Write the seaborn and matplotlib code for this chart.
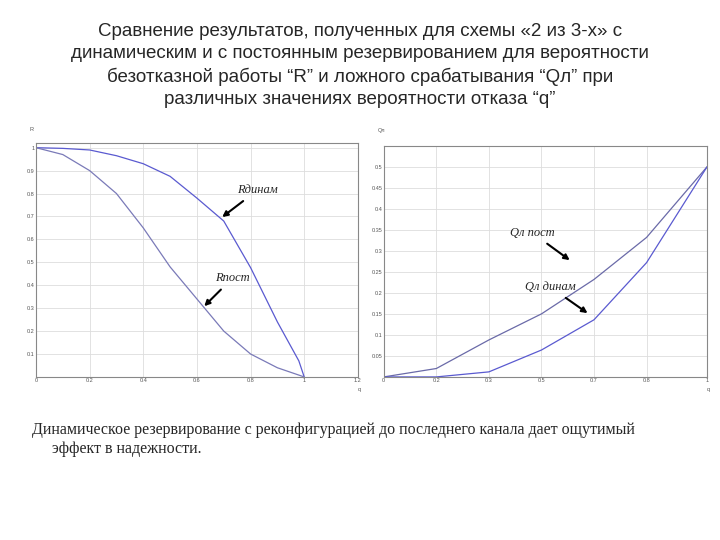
import matplotlib
matplotlib.use("Agg")
import matplotlib.pyplot as plt
import seaborn as sns
import pandas as pd

sns.set_theme(style="whitegrid")
plt.rcParams['font.family'] = ['Liberation Sans', 'DejaVu Sans']

q_left = [0, 0.1, 0.2, 0.3, 0.4, 0.5, 0.6, 0.7, 0.8, 0.9, 0.98, 1.0]
r_dinam = [1, 0.997, 0.99, 0.965, 0.93, 0.875, 0.78, 0.68, 0.477, 0.24, 0.07, 0.0]
r_post = [1, 0.97, 0.9, 0.8, 0.65, 0.48, 0.34, 0.2, 0.1, 0.04, 0.008, 0.0]

q_right = [0, 0.2, 0.4, 0.6, 0.8, 1.0, 1.23]
ql_post = [0, 0.02, 0.088, 0.15, 0.232, 0.332, 0.5]
ql_dinam = [0, 0.0, 0.012, 0.064, 0.136, 0.272, 0.5]
right_tick_labels = ["0", "0.2", "0.3", "0.5", "0.7", "0.8", "1"]

fig = plt.figure(figsize=(7.2, 5.4), dpi=100)
fig.text(0.5, 0.958, "Сравнение результатов, полученных для схемы «2 из 3-х» с\n"
         "динамическим и с постоянным резервированием для вероятности\n"
         "безотказной работы “R” и ложного срабатывания “Qл” при\n"
         "различных значениях вероятности отказа “q”",
         ha="center", va="top", fontsize=13.5, linespacing=1.4)

ax1 = fig.add_axes([0.05, 0.302, 0.447, 0.433])
ax2 = fig.add_axes([0.533, 0.302, 0.449, 0.428])

dl = pd.DataFrame({"q": q_left, "din": r_dinam, "post": r_post})
sns.lineplot(data=dl, x="q", y="din", ax=ax1, color="#5a5ad0", lw=0.9)
sns.lineplot(data=dl, x="q", y="post", ax=ax1, color="#7a7ab8", lw=0.9)
ax1.set_xlim(0, 1.2); ax1.set_ylim(0, 1.02)
ax1.set_xticks([0, 0.2, 0.4, 0.6, 0.8, 1, 1.2])
ax1.set_xticklabels(["0", "0.2", "0.4", "0.6", "0.8", "1", "1.2"])
ax1.set_yticks([0.1, 0.2, 0.3, 0.4, 0.5, 0.6, 0.7, 0.8, 0.9, 1])
ax1.set_yticklabels(["0.1", "0.2", "0.3", "0.4", "0.5", "0.6", "0.7", "0.8", "0.9", "1"])

dr = pd.DataFrame({"q": q_right, "post": ql_post, "din": ql_dinam})
sns.lineplot(data=dr, x="q", y="post", ax=ax2, color="#6a6aa8", lw=0.9)
sns.lineplot(data=dr, x="q", y="din", ax=ax2, color="#5a5ad0", lw=0.9)
ax2.set_xlim(0, 1.23); ax2.set_ylim(0, 0.55)
ax2.set_xticks(q_right); ax2.set_xticklabels(right_tick_labels)
ax2.set_yticks([0.05, 0.1, 0.15, 0.2, 0.25, 0.3, 0.35, 0.4, 0.45, 0.5])
ax2.set_yticklabels(["0.05", "0.1", "0.15", "0.2", "0.25", "0.3", "0.35", "0.4", "0.45", "0.5"])

for ax in (ax1, ax2):
    ax.set_xlabel(""); ax.set_ylabel("")
    ax.tick_params(labelsize=4, colors="#555555", pad=1, length=0)
    ax.set_facecolor("white")
    ax.grid(True, color="#dddddd", lw=0.6)
    for s in ax.spines.values():
        s.set_color("#888888"); s.set_linewidth(0.8)
ax1.text(-0.02, 1.05, "R", transform=ax1.transAxes, fontsize=4, color="#555555")
ax1.text(1.0, -0.06, "q", transform=ax1.transAxes, fontsize=4, color="#555555")
ax2.text(-0.02, 1.06, "Qл", transform=ax2.transAxes, fontsize=4, color="#555555")
ax2.text(1.0, -0.06, "q", transform=ax2.transAxes, fontsize=4, color="#555555")

fs = dict(fontsize=9, style="italic", family=["Liberation Serif", "DejaVu Serif"],
          ha="left", va="center")
ap = dict(arrowstyle="-|>", color="black", lw=1.5, mutation_scale=8, shrinkA=2)
ax1.annotate("Rдинам", xy=(0.686, 0.69), xytext=(0.75, 0.815), **fs, arrowprops=ap)
ax1.annotate("Rпост", xy=(0.62, 0.30), xytext=(0.667, 0.43), **fs, arrowprops=ap)
ax2.annotate("Qл пост", xy=(0.716, 0.274), xytext=(0.48, 0.343), **fs, arrowprops=ap)
ax2.annotate("Qл динам", xy=(0.784, 0.148), xytext=(0.537, 0.214), **fs, arrowprops=ap)

fig.text(0.045, 0.218, "Динамическое резервирование с реконфигурацией до последнего канала дает ощутимый\n"
         "     эффект в надежности.", ha="left", va="top", fontsize=11.5,
         family=["Liberation Serif", "DejaVu Serif"], linespacing=1.25)

fig.savefig("out.png", dpi=100)
